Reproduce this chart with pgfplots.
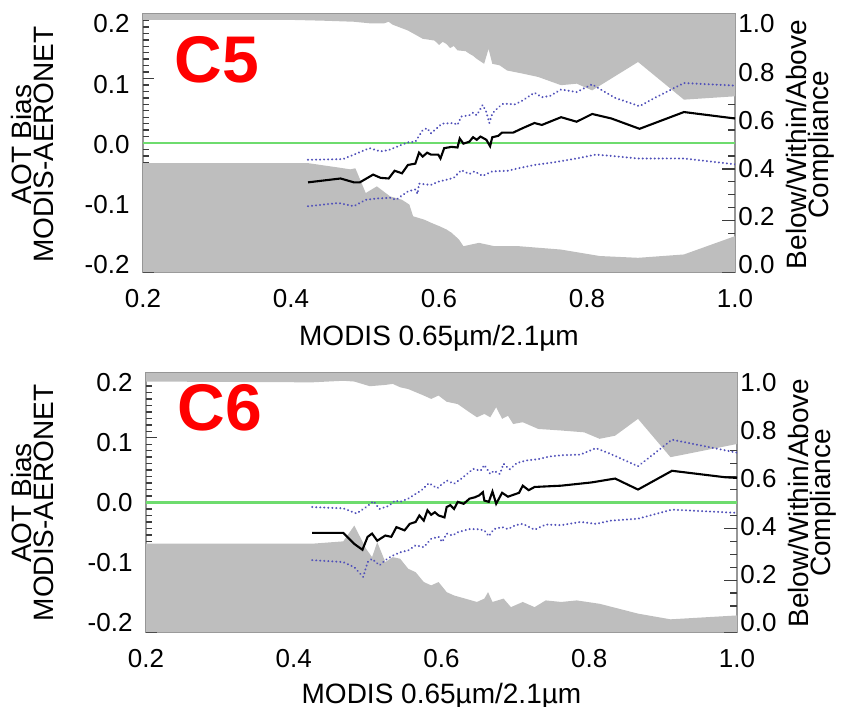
\documentclass[border=0pt]{standalone}
\usepackage{fontspec}
\setmainfont{Liberation Sans}
\usepackage{pgfplots}
\usepackage{pgfplotstable}
\pgfplotsset{compat=1.18}
\definecolor{shade}{RGB}{190,190,190}
\definecolor{framec}{RGB}{150,150,150}
\definecolor{zgreen}{RGB}{110,220,110}
\definecolor{pctblue}{RGB}{80,80,185}
\definecolor{tickc}{RGB}{60,60,60}

% ---------- tick positions (left: bias, right: fraction) ----------
\pgfplotstableread{
x y
0.2 -0.2
0.2 -0.19
0.2 -0.18
0.2 -0.17
0.2 -0.16
0.2 -0.15
0.2 -0.14
0.2 -0.13
0.2 -0.12
0.2 -0.11
0.2 -0.1
0.2 -0.09
0.2 -0.08
0.2 -0.07
0.2 -0.06
0.2 -0.05
0.2 -0.04
0.2 -0.03
0.2 -0.02
0.2 -0.01
0.2 0.0
0.2 0.01
0.2 0.02
0.2 0.03
0.2 0.04
0.2 0.05
0.2 0.06
0.2 0.07
0.2 0.08
0.2 0.09
0.2 0.1
0.2 0.11
0.2 0.12
0.2 0.13
0.2 0.14
0.2 0.15
0.2 0.16
0.2 0.17
0.2 0.18
0.2 0.19
0.2 0.2
}\ltmin
\pgfplotstableread{
x y
0.2 -0.2
0.2 -0.1
0.2 0.0
0.2 0.1
0.2 0.2
}\ltmaj
\pgfplotstableread{
x f
1.0 0.0
1.0 0.05
1.0 0.1
1.0 0.15
1.0 0.2
1.0 0.25
1.0 0.3
1.0 0.35
1.0 0.4
1.0 0.45
1.0 0.5
1.0 0.55
1.0 0.6
1.0 0.65
1.0 0.7
1.0 0.75
1.0 0.8
1.0 0.85
1.0 0.9
1.0 0.95
1.0 1.0
}\rtmin
\pgfplotstableread{
x f
1.0 0.0
1.0 0.2
1.0 0.4
1.0 0.6
1.0 0.8
1.0 1.0
}\rtmaj

% ---------- Panel C5 ----------
\pgfplotstableread{
x f
0.2 0.977
0.402 0.977
0.444 0.974
0.485 0.970
0.506 0.964
0.526 0.964
0.532 0.970
0.537 0.959
0.558 0.936
0.578 0.904
0.594 0.897
0.600 0.880
0.605 0.892
0.610 0.884
0.615 0.868
0.620 0.876
0.625 0.859
0.636 0.856
0.641 0.846
0.646 0.838
0.651 0.826
0.661 0.807
0.667 0.865
0.672 0.807
0.682 0.801
0.692 0.781
0.713 0.769
0.734 0.756
0.765 0.724
0.786 0.730
0.807 0.704
0.869 0.814
0.931 0.668
1.0 0.681
1.0 1.0
0.2 1.0
}\topA
\pgfplotstableread{
x f
0.2 0.422
0.423 0.422
0.464 0.405
0.480 0.398
0.487 0.402
0.501 0.306
0.516 0.332
0.534 0.293
0.550 0.280
0.560 0.261
0.565 0.216
0.580 0.203
0.590 0.190
0.601 0.177
0.610 0.165
0.617 0.152
0.627 0.126
0.633 0.100
0.654 0.113
0.675 0.100
0.708 0.100
0.765 0.087
0.817 0.062
0.869 0.055
0.931 0.068
1.0 0.139
1.0 0.0
0.2 0.0
}\botA
\pgfplotstableread{
x b
0.423 -0.061
0.467 -0.055
0.485 -0.061
0.493 -0.061
0.511 -0.049
0.521 -0.054
0.532 -0.055
0.540 -0.043
0.550 -0.047
0.558 -0.034
0.568 -0.032
0.573 -0.015
0.578 -0.021
0.584 -0.015
0.589 -0.018
0.599 -0.018
0.602 -0.024
0.607 -0.008
0.617 -0.006
0.625 -0.007
0.628 0.007
0.633 -0.001
0.641 0.002
0.646 0.009
0.651 0.005
0.656 0.010
0.664 0.005
0.669 -0.005
0.672 0.009
0.680 0.011
0.685 0.016
0.700 0.016
0.713 0.023
0.729 0.031
0.739 0.028
0.765 0.040
0.786 0.033
0.807 0.045
0.833 0.038
0.871 0.022
0.931 0.048
1.0 0.038
}\medA
\pgfplotstableread{
x b
0.423 -0.026
0.470 -0.025
0.485 -0.018
0.506 -0.008
0.521 -0.013
0.532 -0.011
0.547 -0.004
0.558 0.001
0.568 0.002
0.578 0.020
0.584 0.023
0.589 0.015
0.604 0.030
0.620 0.031
0.625 0.028
0.630 0.041
0.641 0.043
0.646 0.047
0.651 0.043
0.659 0.059
0.664 0.048
0.668 0.031
0.672 0.046
0.682 0.057
0.687 0.061
0.703 0.060
0.713 0.066
0.729 0.078
0.739 0.071
0.750 0.073
0.765 0.083
0.786 0.079
0.807 0.091
0.817 0.084
0.838 0.070
0.871 0.057
0.890 0.069
0.931 0.093
1.0 0.089
}\upA
\pgfplotstableread{
x b
0.423 -0.098
0.464 -0.093
0.477 -0.096
0.485 -0.098
0.501 -0.088
0.516 -0.086
0.534 -0.085
0.542 -0.088
0.558 -0.075
0.568 -0.072
0.571 -0.079
0.573 -0.063
0.589 -0.065
0.599 -0.060
0.610 -0.057
0.620 -0.054
0.630 -0.042
0.641 -0.048
0.648 -0.044
0.659 -0.051
0.672 -0.044
0.693 -0.043
0.708 -0.039
0.729 -0.034
0.755 -0.030
0.786 -0.024
0.812 -0.018
0.833 -0.020
0.869 -0.024
0.931 -0.024
1.0 -0.033
}\loA

% ---------- Panel C6 ----------
\pgfplotstableread{
x f
0.2 0.967
0.425 0.964
0.467 0.970
0.482 0.967
0.503 0.949
0.524 0.954
0.534 0.958
0.544 0.945
0.555 0.938
0.576 0.913
0.586 0.900
0.596 0.913
0.607 0.889
0.622 0.880
0.638 0.848
0.648 0.829
0.658 0.842
0.666 0.829
0.674 0.868
0.682 0.823
0.690 0.835
0.697 0.803
0.710 0.810
0.731 0.784
0.762 0.778
0.793 0.771
0.814 0.746
0.835 0.758
0.866 0.823
0.910 0.675
1.0 0.726
1.0 1.0
0.2 1.0
}\topB
\pgfplotstableread{
x f
0.2 0.341
0.425 0.341
0.467 0.350
0.482 0.411
0.498 0.321
0.506 0.289
0.513 0.347
0.524 0.270
0.534 0.289
0.544 0.283
0.555 0.244
0.565 0.231
0.576 0.193
0.586 0.180
0.596 0.193
0.607 0.154
0.617 0.141
0.632 0.129
0.648 0.116
0.658 0.129
0.663 0.154
0.669 0.116
0.684 0.129
0.694 0.096
0.710 0.116
0.726 0.096
0.741 0.122
0.762 0.116
0.783 0.122
0.814 0.109
0.866 0.071
0.910 0.049
1.0 0.064
1.0 0.0
0.2 0.0
}\botB
\pgfplotstableread{
x b
0.425 -0.047
0.467 -0.047
0.482 -0.064
0.493 -0.073
0.500 -0.053
0.506 -0.048
0.513 -0.059
0.524 -0.051
0.532 -0.053
0.539 -0.038
0.550 -0.043
0.557 -0.033
0.565 -0.030
0.570 -0.020
0.576 -0.028
0.581 -0.012
0.586 -0.019
0.591 -0.015
0.596 -0.020
0.604 -0.023
0.607 -0.007
0.612 -0.004
0.617 -0.010
0.622 0.001
0.630 -0.002
0.638 0.006
0.645 0.008
0.651 0.011
0.656 0.016
0.658 0.003
0.664 0.001
0.669 0.017
0.674 -0.002
0.682 0.015
0.690 0.009
0.700 0.013
0.705 0.015
0.710 0.026
0.718 0.019
0.726 0.024
0.762 0.026
0.803 0.031
0.835 0.037
0.866 0.020
0.912 0.049
0.984 0.039
1.0 0.038
}\medB
\pgfplotstableread{
x b
0.425 -0.007
0.467 -0.009
0.485 -0.017
0.498 -0.007
0.508 0.002
0.516 -0.010
0.529 -0.005
0.537 0.003
0.544 0.001
0.555 0.006
0.573 0.019
0.583 0.030
0.594 0.022
0.607 0.034
0.617 0.029
0.627 0.037
0.643 0.052
0.653 0.049
0.658 0.058
0.666 0.044
0.671 0.049
0.679 0.044
0.684 0.060
0.692 0.051
0.702 0.061
0.715 0.065
0.731 0.067
0.746 0.071
0.762 0.073
0.788 0.074
0.809 0.084
0.829 0.075
0.866 0.056
0.912 0.097
1.0 0.077
}\upB
\pgfplotstableread{
x b
0.425 -0.089
0.467 -0.092
0.482 -0.100
0.494 -0.115
0.500 -0.092
0.506 -0.087
0.516 -0.097
0.524 -0.089
0.534 -0.082
0.544 -0.077
0.555 -0.074
0.565 -0.066
0.576 -0.069
0.586 -0.056
0.596 -0.053
0.601 -0.061
0.607 -0.048
0.615 -0.051
0.622 -0.046
0.638 -0.041
0.648 -0.041
0.658 -0.043
0.664 -0.052
0.671 -0.041
0.682 -0.038
0.690 -0.041
0.700 -0.035
0.710 -0.033
0.726 -0.042
0.741 -0.034
0.762 -0.035
0.788 -0.030
0.809 -0.033
0.829 -0.028
0.866 -0.025
0.912 -0.011
1.0 -0.016
}\loB

\pgfplotsset{
  common/.style={scale only axis, anchor=south west, xmin=0.2, xmax=1.0,
    tick label style={font=\fontsize{13}{13}\selectfont}},
  llab/.style={common, ymin=-0.2, ymax=0.2, ytick={-0.2,-0.1,0,0.1,0.2},
    yticklabels={-0.2,-0.1,0.0,0.1,0.2}, ytick pos=left, xtick=\empty,
    axis line style={draw=none}, tick style={draw=none},
    yticklabel style={xshift=-3.2pt}},
  rlab/.style={common, ymin=0, ymax=1, ytick={0,0.2,0.4,0.6,0.8,1},
    yticklabels={0.0,0.2,0.4,0.6,0.8,1.0}, ytick pos=right, yticklabel pos=right,
    xtick=\empty, axis line style={draw=none}, tick style={draw=none},
    yticklabel style={xshift=-1.8pt}},
  ylab/.style={every axis y label/.style={at={(rel axis cs:#1,0.5)}, rotate=90,
    anchor=center, align=center, font=\fontsize{14}{11.2}\selectfont}},
  mainax/.style={common, ymin=-0.2, ymax=0.2, ytick=\empty,
    xtick={0.2,0.4,0.6,0.8,1.0}, xticklabels={0.2,0.4,0.6,0.8,1.0},
    x tick style={draw=none},
    axis line style={draw=framec, line width=1pt},
    xticklabel style={yshift=-5.2pt},
    every axis x label/.style={at={(rel axis cs:0.5,0)}, anchor=base, yshift=-36.5pt,
      font=\fontsize{14}{14}\selectfont},
    xlabel={MODIS 0.65µm/2.1µm}},
  tk/.style={draw=tickc, line width=0.7pt},
  gfill/.style={fill=shade, draw=none},
  pct/.style={pctblue, line width=1.1pt, line cap=round, dash pattern=on 0.01pt off 2pt},
  med/.style={black, line width=1.05pt},
  zline/.style={zgreen, line width=1.3pt},
}

\begin{document}
\begin{tikzpicture}
\useasboundingbox (0,0) rectangle (422pt,-353pt);

% ===== Panel C5 =====
\begin{axis}[llab, at={(71.5pt,-132.5pt)}, width=296pt, height=120.5pt,
  ylab=-0.1867, ylabel={AOT Bias\\MODIS-AERONET}]
\end{axis}
\begin{axis}[rlab, at={(71.5pt,-132.5pt)}, width=296pt, height=120.5pt,
  ylab=1.1267, ylabel={Below/Within/Above\\Compliance}]
\end{axis}
\begin{axis}[mainax, at={(71.5pt,-136pt)}, width=296pt, height=129pt]
  % inward tick marks (drawn first so that the shading covers them)
  \addplot[tk, quiver={u=0.0081, v=0}] table[x=x, y=y] {\ltmin};
  \addplot[tk, quiver={u=0.0149, v=0}] table[x=x, y=y] {\ltmaj};
  \addplot[tk, quiver={u=-0.0095, v=0}] table[x=x, y expr=-0.2+0.4*\thisrow{f}] {\rtmin};
  \addplot[tk, quiver={u=-0.0176, v=0}] table[x=x, y expr=-0.2+0.4*\thisrow{f}] {\rtmaj};
  \addplot[gfill] table[x=x, y expr=-0.2+0.4*\thisrow{f}] {\topA};
  \addplot[gfill] table[x=x, y expr=-0.2+0.4*\thisrow{f}] {\botA};
  \addplot[zline] coordinates {(0.2,0) (1.0,0)};
  \addplot[pct] table[x=x, y=b] {\upA};
  \addplot[pct] table[x=x, y=b] {\loA};
  \addplot[med] table[x=x, y=b] {\medA};
  \node[text=red, font=\fontsize{33}{33}\selectfont\bfseries, anchor=center]
    at (rel axis cs:0.125,0.822) {C5};
\end{axis}

% ===== Panel C6 =====
\begin{axis}[llab, at={(73pt,-311.5pt)}, width=295.5pt, height=120pt,
  ylab=-0.192, ylabel={AOT Bias\\MODIS-AERONET}]
\end{axis}
\begin{axis}[rlab, at={(73pt,-311.5pt)}, width=295.5pt, height=120pt,
  ylab=1.127, ylabel={Below/Within/Above\\Compliance}]
\end{axis}
\begin{axis}[mainax, at={(73pt,-316pt)}, width=295.5pt, height=129.5pt,
  every axis x label/.append style={yshift=1pt}]
  \addplot[tk, quiver={u=0.0081, v=0}] table[x=x, y=y] {\ltmin};
  \addplot[tk, quiver={u=0.0149, v=0}] table[x=x, y=y] {\ltmaj};
  \addplot[tk, quiver={u=-0.0095, v=0}] table[x=x, y expr=-0.2+0.4*\thisrow{f}] {\rtmin};
  \addplot[tk, quiver={u=-0.0176, v=0}] table[x=x, y expr=-0.2+0.4*\thisrow{f}] {\rtmaj};
  \addplot[gfill] table[x=x, y expr=-0.2+0.4*\thisrow{f}] {\topB};
  \addplot[gfill] table[x=x, y expr=-0.2+0.4*\thisrow{f}] {\botB};
  \addplot[zline] coordinates {(0.2,0) (1.0,0)};
  \addplot[pct] table[x=x, y=b] {\upB};
  \addplot[pct] table[x=x, y=b] {\loB};
  \addplot[med] table[x=x, y=b] {\medB};
  \node[text=red, font=\fontsize{33}{33}\selectfont\bfseries, anchor=center]
    at (rel axis cs:0.125,0.865) {C6};
\end{axis}
\end{tikzpicture}
\end{document}
